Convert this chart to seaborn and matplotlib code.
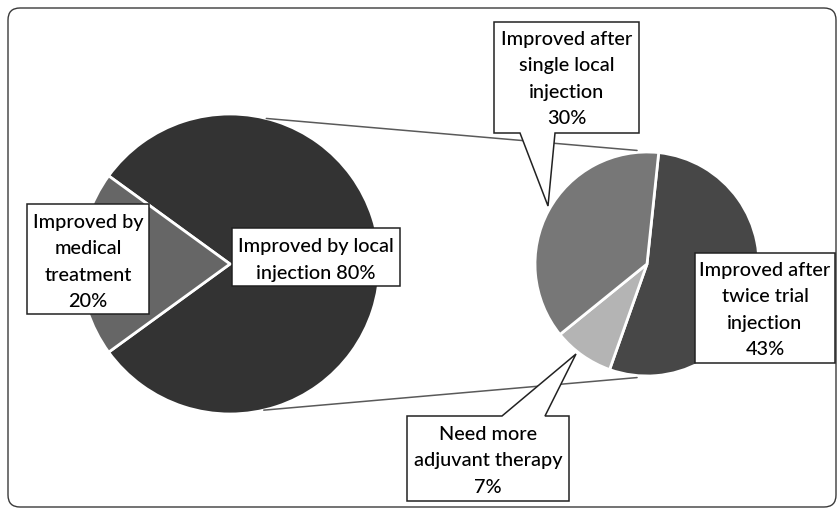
import numpy as np
import matplotlib
matplotlib.use("Agg")
import matplotlib.pyplot as plt
import seaborn as sns
from matplotlib.patches import Polygon, Rectangle, FancyBboxPatch

# Main pie: how patients improved
main_labels = ["Improved by local\ninjection 80%", "Improved by\nmedical\ntreatment\n20%"]
main_values = [80, 20]
main_colors = ["#333333", "#666666"]

# Breakdown of the local-injection share
sub_labels = ["Improved after\ntwice trial\ninjection\n43%",
              "Need more\nadjuvant therapy\n7%",
              "Improved after\nsingle local\ninjection\n30%"]
sub_values = [43, 7, 30]
sub_colors = ["#474747", "#b4b4b4", "#777777"]

sns.set_theme(style="white")
plt.rcParams["font.family"] = ["Lato", "DejaVu Sans"]

W, H = 839, 510
fig = plt.figure(figsize=(W / 100, H / 100), dpi=100)
ax = fig.add_axes([0, 0, 1, 1])


def P(x, y):
    """Pixel-style coordinates (origin top-left) to data coordinates."""
    return (x, H - y)


# outer rounded frame
frame = FancyBboxPatch(P(8, 508), 828, 499, boxstyle="round,pad=0,rounding_size=12",
                       fc="white", ec="#3a3a3a", lw=1.0, zorder=0)
ax.add_patch(frame)

c1, r1 = P(230, 265), 150
c2, r2 = P(647, 265), 112

ax.pie(main_values, colors=main_colors, startangle=216, counterclock=True,
       center=c1, radius=r1, wedgeprops=dict(edgecolor="white", linewidth=2))
ax.pie(sub_values, colors=sub_colors, startangle=84, counterclock=False,
       center=c2, radius=r2, wedgeprops=dict(edgecolor="white", linewidth=2))


def on_circle(c, r, deg):
    a = np.deg2rad(deg)
    return (c[0] + r * np.cos(a), c[1] + r * np.sin(a))


# connector lines between the two pies
for a1, a2 in [(76, 95), (-77, -95)]:
    p1 = on_circle(c1, r1, a1)
    p2 = on_circle(c2, r2 + 2, a2)
    ax.plot([p1[0], p2[0]], [p1[1], p2[1]], color="#5a5a5a", lw=1.1, zorder=1)

box_kw = dict(fc="white", ec="#222222", lw=1.1, zorder=5, joinstyle="miter")
txt_kw = dict(ha="center", va="center", fontsize=14.3, color="#000000",
              fontweight="medium", linespacing=1.66, zorder=6)


def rect_box(x0, y0, x1, y1):
    ax.add_patch(Rectangle(P(x0, y1), x1 - x0, y1 - y0, **box_kw))


def callout(points):
    ax.add_patch(Polygon([P(x, y) for x, y in points], closed=True, **box_kw))


# main pie labels
rect_box(27, 205, 149, 315)
ax.text(*P(88, 262), main_labels[1], **txt_kw)
rect_box(232, 229, 400, 287)
ax.text(*P(316, 260), main_labels[0], **txt_kw)

# breakdown labels
callout([(494, 23), (639, 23), (639, 134), (555, 134), (548, 207), (520, 134), (494, 134)])
ax.text(*P(567, 79), sub_labels[2], **txt_kw)

rect_box(695, 254, 835, 364)
ax.text(*P(765, 310), sub_labels[0], **txt_kw)

callout([(407, 417), (502, 417), (576, 355), (545, 417), (569, 417), (569, 502), (407, 502)])
ax.text(*P(488, 461), sub_labels[1], **txt_kw)

ax.set_xlim(0, W)
ax.set_ylim(0, H)
ax.set_aspect("equal")
ax.axis("off")

fig.savefig("out.png", dpi=100, facecolor="white")
